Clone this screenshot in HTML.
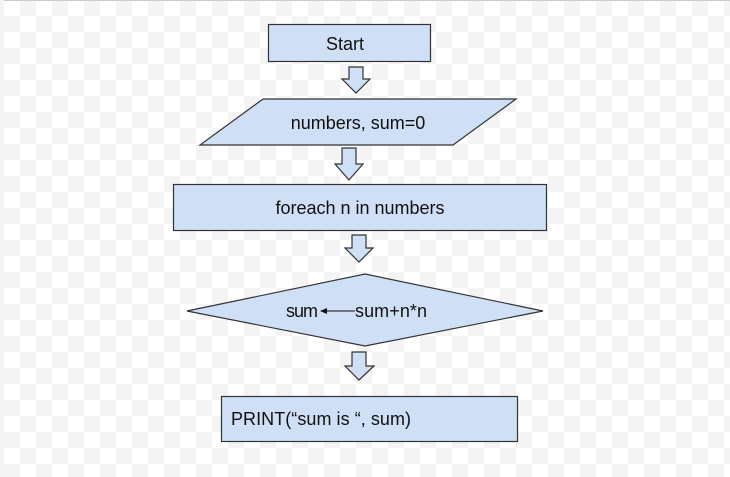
<!DOCTYPE html>
<html><head><style>
body{margin:0;width:730px;height:477px;overflow:hidden;background-color:#fff;
background-image:linear-gradient(45deg,#f4f4f4 25%,transparent 25%,transparent 75%,#f4f4f4 75%),linear-gradient(45deg,#f4f4f4 25%,transparent 25%,transparent 75%,#f4f4f4 75%);
background-size:32px 32px;background-position:4px 0,20px 16px;}
svg{position:absolute;left:0;top:0}
text{font-family:"Liberation Sans",sans-serif;font-size:18px;fill:#111}
</style></head><body>
<svg width="730" height="477" viewBox="0 0 730 477">
<line x1="0" y1="0.5" x2="730" y2="0.5" stroke="#ccc"/>
<rect x="0" y="0" width="4" height="477" fill="#f2f3f7"/>
<g fill="#cfdff5" stroke="#333" stroke-width="1.2">
<rect x="268.5" y="24.5" width="162" height="37"/>
<polygon points="349,67 363,67 363,79 370,79 356,93 342,79 349,79"/>
<polygon points="263,99 516,99 453,145 200,145"/>
<polygon points="342,148 356,148 356,164 363,164 349,180 335,164 342,164"/>
<rect x="173.5" y="184.5" width="373" height="46"/>
<polygon points="352,235 366,235 366,248 373,248 359,262 345,248 352,248"/>
<polygon points="187,311 365,274 543,311 365,346"/>
<polygon points="352,352 366,352 366,366 374,366 359,380 345,366 352,366"/>
<rect x="221.5" y="396.5" width="296" height="45"/>
</g>
<text x="345" y="50" text-anchor="middle">Start</text>
<text x="358" y="129" text-anchor="middle">numbers, sum=0</text>
<text x="360" y="214" text-anchor="middle">foreach n in numbers</text>
<text x="286" y="317" textLength="32">sum</text>
<line x1="323" y1="311" x2="355" y2="311" stroke="#111" stroke-width="1"/>
<polygon points="320,311 327,308 327,314" fill="#111"/>
<text x="355" y="317" textLength="72">sum+n*n</text>
<text x="231" y="425" textLength="180">PRINT(“sum is “, sum)</text>
</svg>
</body></html>
